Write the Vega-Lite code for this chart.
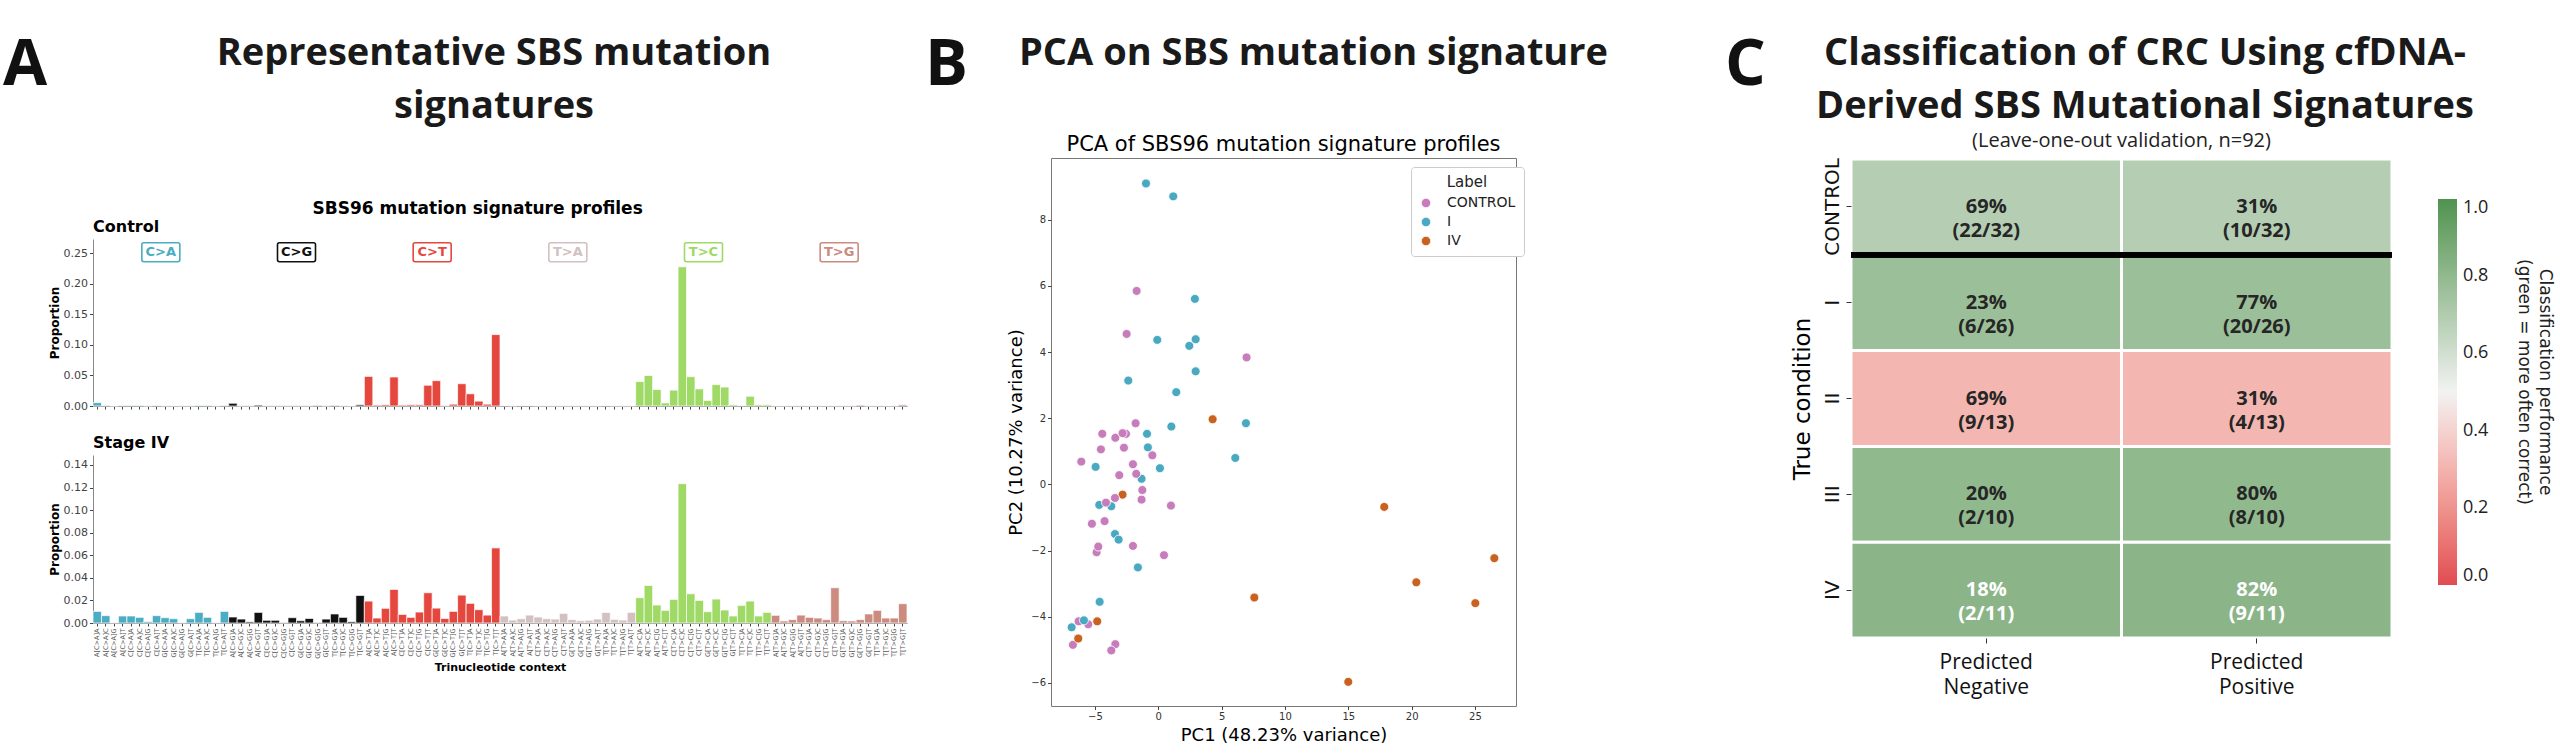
{
"$schema": "https://vega.github.io/schema/vega-lite/v6.json",
"background": "white",
"padding": {"left": 0, "top": 0, "right": 12, "bottom": 0},
"spacing": 0,
"config": {
  "font": "DejaVu Sans",
  "view": {"stroke": null},
  "concat": {"spacing": 0},
  "axis": {"grid": false, "labelFont": "DejaVu Sans", "titleFont": "DejaVu Sans", "labelColor": "#444", "titleColor": "#000", "domainColor": "#888", "tickColor": "#444"},
  "title": {"baseline": "top", "color": "#1a1a1a"},
  "legend": {"labelFont": "DejaVu Sans", "titleFont": "DejaVu Sans"}
},
"datasets": {
  "sbs": [
    {"ctx":"A[C>A]A","mut":"C>A","control":0.0055,"stage":0.0103},
    {"ctx":"A[C>A]C","mut":"C>A","control":0.001,"stage":0.0065},
    {"ctx":"A[C>A]G","mut":"C>A","control":0.0002,"stage":0.0003},
    {"ctx":"A[C>A]T","mut":"C>A","control":0.0009,"stage":0.0062},
    {"ctx":"C[C>A]A","mut":"C>A","control":0.0009,"stage":0.0062},
    {"ctx":"C[C>A]C","mut":"C>A","control":0.0009,"stage":0.005},
    {"ctx":"C[C>A]G","mut":"C>A","control":0.0002,"stage":0.0012},
    {"ctx":"C[C>A]T","mut":"C>A","control":0.0008,"stage":0.0065},
    {"ctx":"G[C>A]A","mut":"C>A","control":0.0002,"stage":0.0047},
    {"ctx":"G[C>A]C","mut":"C>A","control":0.0002,"stage":0.0038},
    {"ctx":"G[C>A]G","mut":"C>A","control":0.0002,"stage":0.0003},
    {"ctx":"G[C>A]T","mut":"C>A","control":0.0002,"stage":0.0038},
    {"ctx":"T[C>A]A","mut":"C>A","control":0.0009,"stage":0.0094},
    {"ctx":"T[C>A]C","mut":"C>A","control":0.0009,"stage":0.005},
    {"ctx":"T[C>A]G","mut":"C>A","control":0.0002,"stage":0.0003},
    {"ctx":"T[C>A]T","mut":"C>A","control":0.0009,"stage":0.0103},
    {"ctx":"A[C>G]A","mut":"C>G","control":0.0045,"stage":0.0053},
    {"ctx":"A[C>G]C","mut":"C>G","control":0.0002,"stage":0.0035},
    {"ctx":"A[C>G]G","mut":"C>G","control":0.0002,"stage":0.001},
    {"ctx":"A[C>G]T","mut":"C>G","control":0.0015,"stage":0.0094},
    {"ctx":"C[C>G]A","mut":"C>G","control":0.0002,"stage":0.0024},
    {"ctx":"C[C>G]C","mut":"C>G","control":0.0002,"stage":0.0024},
    {"ctx":"C[C>G]G","mut":"C>G","control":0.0002,"stage":0.0003},
    {"ctx":"C[C>G]T","mut":"C>G","control":0.0002,"stage":0.0047},
    {"ctx":"G[C>G]A","mut":"C>G","control":0.0002,"stage":0.002},
    {"ctx":"G[C>G]C","mut":"C>G","control":0.0002,"stage":0.004},
    {"ctx":"G[C>G]G","mut":"C>G","control":0.0008,"stage":0.0003},
    {"ctx":"G[C>G]T","mut":"C>G","control":0.0002,"stage":0.0035},
    {"ctx":"T[C>G]A","mut":"C>G","control":0.0008,"stage":0.008},
    {"ctx":"T[C>G]C","mut":"C>G","control":0.0002,"stage":0.005},
    {"ctx":"T[C>G]G","mut":"C>G","control":0.0002,"stage":0.0012},
    {"ctx":"T[C>G]T","mut":"C>G","control":0.002,"stage":0.0244},
    {"ctx":"A[C>T]A","mut":"C>T","control":0.0485,"stage":0.0194},
    {"ctx":"A[C>T]C","mut":"C>T","control":0.0015,"stage":0.0044},
    {"ctx":"A[C>T]G","mut":"C>T","control":0.002,"stage":0.013},
    {"ctx":"A[C>T]T","mut":"C>T","control":0.0475,"stage":0.0297},
    {"ctx":"C[C>T]A","mut":"C>T","control":0.0015,"stage":0.0076},
    {"ctx":"C[C>T]C","mut":"C>T","control":0.002,"stage":0.005},
    {"ctx":"C[C>T]G","mut":"C>T","control":0.002,"stage":0.0097},
    {"ctx":"C[C>T]T","mut":"C>T","control":0.034,"stage":0.0268},
    {"ctx":"G[C>T]A","mut":"C>T","control":0.0415,"stage":0.0132},
    {"ctx":"G[C>T]C","mut":"C>T","control":0.0005,"stage":0.004},
    {"ctx":"G[C>T]G","mut":"C>T","control":0.003,"stage":0.0103},
    {"ctx":"G[C>T]T","mut":"C>T","control":0.0365,"stage":0.0247},
    {"ctx":"T[C>T]A","mut":"C>T","control":0.02,"stage":0.0174},
    {"ctx":"T[C>T]C","mut":"C>T","control":0.008,"stage":0.0118},
    {"ctx":"T[C>T]G","mut":"C>T","control":0.003,"stage":0.007},
    {"ctx":"T[C>T]T","mut":"C>T","control":0.117,"stage":0.0665},
    {"ctx":"A[T>A]A","mut":"T>A","control":0.001,"stage":0.0062},
    {"ctx":"A[T>A]C","mut":"T>A","control":0.0003,"stage":0.0026},
    {"ctx":"A[T>A]G","mut":"T>A","control":0.0008,"stage":0.0038},
    {"ctx":"A[T>A]T","mut":"T>A","control":0.0008,"stage":0.007},
    {"ctx":"C[T>A]A","mut":"T>A","control":0.0002,"stage":0.0053},
    {"ctx":"C[T>A]C","mut":"T>A","control":0.0002,"stage":0.0038},
    {"ctx":"C[T>A]G","mut":"T>A","control":0.0002,"stage":0.0035},
    {"ctx":"C[T>A]T","mut":"T>A","control":0.0002,"stage":0.0085},
    {"ctx":"G[T>A]A","mut":"T>A","control":0.0002,"stage":0.003},
    {"ctx":"G[T>A]C","mut":"T>A","control":0.0002,"stage":0.002},
    {"ctx":"G[T>A]G","mut":"T>A","control":0.0002,"stage":0.0024},
    {"ctx":"G[T>A]T","mut":"T>A","control":0.0002,"stage":0.0035},
    {"ctx":"T[T>A]A","mut":"T>A","control":0.001,"stage":0.0094},
    {"ctx":"T[T>A]C","mut":"T>A","control":0.0002,"stage":0.0032},
    {"ctx":"T[T>A]G","mut":"T>A","control":0.0002,"stage":0.0026},
    {"ctx":"T[T>A]T","mut":"T>A","control":0.0002,"stage":0.0094},
    {"ctx":"A[T>C]A","mut":"T>C","control":0.04,"stage":0.0224},
    {"ctx":"A[T>C]C","mut":"T>C","control":0.05,"stage":0.0332},
    {"ctx":"A[T>C]G","mut":"T>C","control":0.027,"stage":0.0159},
    {"ctx":"A[T>C]T","mut":"T>C","control":0.005,"stage":0.0112},
    {"ctx":"C[T>C]A","mut":"T>C","control":0.026,"stage":0.0209},
    {"ctx":"C[T>C]C","mut":"T>C","control":0.228,"stage":0.1234},
    {"ctx":"C[T>C]G","mut":"T>C","control":0.048,"stage":0.0259},
    {"ctx":"C[T>C]T","mut":"T>C","control":0.028,"stage":0.02},
    {"ctx":"G[T>C]A","mut":"T>C","control":0.009,"stage":0.01},
    {"ctx":"G[T>C]C","mut":"T>C","control":0.035,"stage":0.0212},
    {"ctx":"G[T>C]G","mut":"T>C","control":0.031,"stage":0.0115},
    {"ctx":"G[T>C]T","mut":"T>C","control":0.002,"stage":0.0062},
    {"ctx":"T[T>C]A","mut":"T>C","control":0.001,"stage":0.0156},
    {"ctx":"T[T>C]C","mut":"T>C","control":0.016,"stage":0.0194},
    {"ctx":"T[T>C]G","mut":"T>C","control":0.002,"stage":0.0062},
    {"ctx":"T[T>C]T","mut":"T>C","control":0.002,"stage":0.0094},
    {"ctx":"A[T>G]A","mut":"T>G","control":0.0002,"stage":0.0068},
    {"ctx":"A[T>G]C","mut":"T>G","control":0.0002,"stage":0.0018},
    {"ctx":"A[T>G]G","mut":"T>G","control":0.0002,"stage":0.003},
    {"ctx":"A[T>G]T","mut":"T>G","control":0.0002,"stage":0.007},
    {"ctx":"C[T>G]A","mut":"T>G","control":0.0002,"stage":0.005},
    {"ctx":"C[T>G]C","mut":"T>G","control":0.0002,"stage":0.0044},
    {"ctx":"C[T>G]G","mut":"T>G","control":0.0002,"stage":0.003},
    {"ctx":"C[T>G]T","mut":"T>G","control":0.0002,"stage":0.0312},
    {"ctx":"G[T>G]A","mut":"T>G","control":0.0002,"stage":0.002},
    {"ctx":"G[T>G]C","mut":"T>G","control":0.0002,"stage":0.0018},
    {"ctx":"G[T>G]G","mut":"T>G","control":0.0015,"stage":0.003},
    {"ctx":"G[T>G]T","mut":"T>G","control":0.0002,"stage":0.008},
    {"ctx":"T[T>G]A","mut":"T>G","control":0.0002,"stage":0.0112},
    {"ctx":"T[T>G]C","mut":"T>G","control":0.0002,"stage":0.0044},
    {"ctx":"T[T>G]G","mut":"T>G","control":0.0002,"stage":0.0044},
    {"ctx":"T[T>G]T","mut":"T>G","control":0.002,"stage":0.0171}
  ],
  "muts": [
    {"mut":"C>A","ctx":"C[C>A]T"},
    {"mut":"C>G","ctx":"C[C>G]T"},
    {"mut":"C>T","ctx":"C[C>T]T"},
    {"mut":"T>A","ctx":"C[T>A]T"},
    {"mut":"T>C","ctx":"C[T>C]T"},
    {"mut":"T>G","ctx":"C[T>G]T"}
  ],
  "pca": [
    {"pc1":-0.97,"pc2":9.10,"label":"I"},
    {"pc1":1.18,"pc2":8.71,"label":"I"},
    {"pc1":-1.71,"pc2":5.85,"label":"CONTROL"},
    {"pc1":2.89,"pc2":5.61,"label":"I"},
    {"pc1":-2.5,"pc2":4.55,"label":"CONTROL"},
    {"pc1":-0.08,"pc2":4.37,"label":"I"},
    {"pc1":2.95,"pc2":4.39,"label":"I"},
    {"pc1":2.45,"pc2":4.19,"label":"I"},
    {"pc1":6.97,"pc2":3.84,"label":"CONTROL"},
    {"pc1":2.95,"pc2":3.42,"label":"I"},
    {"pc1":-2.37,"pc2":3.14,"label":"I"},
    {"pc1":1.42,"pc2":2.79,"label":"I"},
    {"pc1":4.29,"pc2":1.97,"label":"IV"},
    {"pc1":-1.79,"pc2":1.85,"label":"CONTROL"},
    {"pc1":1.03,"pc2":1.75,"label":"I"},
    {"pc1":6.92,"pc2":1.85,"label":"I"},
    {"pc1":-4.42,"pc2":1.53,"label":"CONTROL"},
    {"pc1":-3.39,"pc2":1.41,"label":"CONTROL"},
    {"pc1":-2.55,"pc2":1.53,"label":"CONTROL"},
    {"pc1":-2.82,"pc2":1.55,"label":"CONTROL"},
    {"pc1":-0.89,"pc2":1.53,"label":"I"},
    {"pc1":-4.53,"pc2":1.06,"label":"CONTROL"},
    {"pc1":-2.71,"pc2":1.11,"label":"CONTROL"},
    {"pc1":-0.82,"pc2":1.12,"label":"I"},
    {"pc1":-0.47,"pc2":0.88,"label":"CONTROL"},
    {"pc1":-6.08,"pc2":0.69,"label":"CONTROL"},
    {"pc1":-4.95,"pc2":0.53,"label":"I"},
    {"pc1":-2.0,"pc2":0.61,"label":"CONTROL"},
    {"pc1":0.13,"pc2":0.49,"label":"I"},
    {"pc1":6.08,"pc2":0.80,"label":"I"},
    {"pc1":-3.08,"pc2":0.28,"label":"CONTROL"},
    {"pc1":-1.32,"pc2":0.17,"label":"I"},
    {"pc1":-1.74,"pc2":0.32,"label":"CONTROL"},
    {"pc1":-1.26,"pc2":-0.17,"label":"CONTROL"},
    {"pc1":-2.82,"pc2":-0.31,"label":"IV"},
    {"pc1":-1.32,"pc2":-0.46,"label":"CONTROL"},
    {"pc1":-3.42,"pc2":-0.41,"label":"CONTROL"},
    {"pc1":-4.66,"pc2":-0.62,"label":"I"},
    {"pc1":-3.71,"pc2":-0.66,"label":"I"},
    {"pc1":-4.13,"pc2":-0.55,"label":"CONTROL"},
    {"pc1":1.0,"pc2":-0.64,"label":"CONTROL"},
    {"pc1":17.84,"pc2":-0.68,"label":"IV"},
    {"pc1":-5.24,"pc2":-1.19,"label":"CONTROL"},
    {"pc1":-4.24,"pc2":-1.11,"label":"CONTROL"},
    {"pc1":-3.42,"pc2":-1.50,"label":"I"},
    {"pc1":-3.13,"pc2":-1.67,"label":"I"},
    {"pc1":-4.87,"pc2":-2.05,"label":"CONTROL"},
    {"pc1":-4.74,"pc2":-1.88,"label":"CONTROL"},
    {"pc1":-2.0,"pc2":-1.86,"label":"CONTROL"},
    {"pc1":0.45,"pc2":-2.14,"label":"CONTROL"},
    {"pc1":-1.61,"pc2":-2.51,"label":"I"},
    {"pc1":26.53,"pc2":-2.23,"label":"IV"},
    {"pc1":20.37,"pc2":-2.96,"label":"IV"},
    {"pc1":7.58,"pc2":-3.42,"label":"IV"},
    {"pc1":-4.63,"pc2":-3.55,"label":"I"},
    {"pc1":25.03,"pc2":-3.59,"label":"IV"},
    {"pc1":-6.29,"pc2":-4.14,"label":"CONTROL"},
    {"pc1":-5.53,"pc2":-4.23,"label":"CONTROL"},
    {"pc1":-5.87,"pc2":-4.11,"label":"I"},
    {"pc1":-4.82,"pc2":-4.14,"label":"IV"},
    {"pc1":-6.84,"pc2":-4.32,"label":"I"},
    {"pc1":-6.74,"pc2":-4.85,"label":"CONTROL"},
    {"pc1":-6.32,"pc2":-4.66,"label":"IV"},
    {"pc1":-3.39,"pc2":-4.83,"label":"CONTROL"},
    {"pc1":-3.71,"pc2":-5.02,"label":"CONTROL"},
    {"pc1":15.0,"pc2":-5.97,"label":"IV"}
  ],
  "cm": [
    {"truth":"CONTROL","pred":"Predicted Negative","label":"69%\n(22/32)","perf":0.6875},
    {"truth":"CONTROL","pred":"Predicted Positive","label":"31%\n(10/32)","perf":0.6875},
    {"truth":"I","pred":"Predicted Negative","label":"23%\n(6/26)","perf":0.769},
    {"truth":"I","pred":"Predicted Positive","label":"77%\n(20/26)","perf":0.769},
    {"truth":"II","pred":"Predicted Negative","label":"69%\n(9/13)","perf":0.308},
    {"truth":"II","pred":"Predicted Positive","label":"31%\n(4/13)","perf":0.308},
    {"truth":"III","pred":"Predicted Negative","label":"20%\n(2/10)","perf":0.8},
    {"truth":"III","pred":"Predicted Positive","label":"80%\n(8/10)","perf":0.8},
    {"truth":"IV","pred":"Predicted Negative","label":"18%\n(2/11)","perf":0.818},
    {"truth":"IV","pred":"Predicted Positive","label":"82%\n(9/11)","perf":0.818}
  ]
},
"hconcat": [
  {
    "width": 47, "height": 1,
    "title": {"text": "A", "orient": "bottom", "font": "Open Sans", "fontSize": 64, "fontWeight": "bold", "anchor": "start", "frame": "group", "dx": 3, "offset": 22, "color": "#111"},
    "data": {"values": [{"t": ""}]},
    "mark": {"type": "text"},
    "encoding": {"text": {"field": "t"}}
  },
  {
    "spacing": 74,
    "vconcat": [
      {
        "width": 802, "height": 1,
        "title": {"text": ["Representative SBS mutation", "signatures"], "orient": "bottom", "font": "Open Sans", "fontSize": 38, "fontWeight": "bold", "lineHeight": 53, "anchor": "middle", "frame": "group", "offset": 23},
        "data": {"values": [{"t": ""}]},
        "mark": {"type": "text"},
        "encoding": {"text": {"field": "t"}}
      },
      {
        "title": {"text": "SBS96 mutation signature profiles", "font": "DejaVu Sans", "fontSize": 17, "fontWeight": "bold", "anchor": "middle", "offset": 1, "color": "#000"},
        "spacing": 24,
        "vconcat": [
          {
            "width": 814, "height": 167,
            "title": {"text": "Control", "font": "DejaVu Sans", "fontSize": 16, "fontWeight": "bold", "anchor": "start", "frame": "group", "offset": 4, "color": "#000"},
            "data": {"name": "sbs"},
            "layer": [
              {
                "mark": {"type": "bar", "stroke": "white", "strokeWidth": 0.7},
                "encoding": {
                  "x": {"field": "ctx", "type": "nominal", "sort": null, "scale": {"paddingInner": 0, "paddingOuter": 0}, "axis": {"labels": false, "title": null, "ticks": true, "tickSize": 3}},
                  "y": {"field": "control", "type": "quantitative", "scale": {"domain": [0, 0.2736], "nice": false}, "axis": {"values": [0, 0.05, 0.1, 0.15, 0.2, 0.25], "format": ".2f", "labelOverlap": false, "title": "Proportion", "titleFontSize": 12, "titleFontWeight": "bold", "labelFontSize": 11, "tickSize": 3.5, "labelPadding": 2, "titlePadding": 2}},
                  "color": {"field": "mut", "type": "nominal", "scale": {"domain": ["C>A","C>G","C>T","T>A","T>C","T>G"], "range": ["#4aadc3","#111111","#e5473f","#d3c0c0","#9fd966","#cc8b7f"]}, "legend": null}
                }
              },
              {
                "data": {"name": "muts"},
                "mark": {"type": "point", "shape": "M -0.9 -0.5 L 0.9 -0.5 Q 1 -0.5 1 -0.4 L 1 0.4 Q 1 0.5 0.9 0.5 L -0.9 0.5 Q -1 0.5 -1 0.4 L -1 -0.4 Q -1 -0.5 -0.9 -0.5 Z", "size": 1444, "filled": true, "fill": "white", "strokeWidth": 1.6, "opacity": 1},
                "encoding": {
                  "x": {"field": "ctx", "type": "nominal", "sort": null, "bandPosition": 1, "axis": {"labels": false, "title": null, "ticks": true, "tickSize": 3}},
                  "y": {"datum": 0.252, "type": "quantitative", "axis": {"values": [0, 0.05, 0.1, 0.15, 0.2, 0.25], "format": ".2f", "labelOverlap": false, "title": "Proportion", "titleFontSize": 12, "titleFontWeight": "bold", "labelFontSize": 11, "tickSize": 3.5, "labelPadding": 2, "titlePadding": 2}},
                  "stroke": {"field": "mut", "type": "nominal", "scale": {"domain": ["C>A","C>G","C>T","T>A","T>C","T>G"], "range": ["#4aadc3","#111111","#e5473f","#d3c0c0","#9fd966","#cc8b7f"]}, "legend": null}
                }
              },
              {
                "data": {"name": "muts"},
                "mark": {"type": "text", "font": "DejaVu Sans", "fontSize": 13, "fontWeight": "bold", "baseline": "middle", "align": "center"},
                "encoding": {
                  "x": {"field": "ctx", "type": "nominal", "sort": null, "bandPosition": 1, "axis": {"labels": false, "title": null, "ticks": true, "tickSize": 3}},
                  "y": {"datum": 0.252, "type": "quantitative", "axis": {"values": [0, 0.05, 0.1, 0.15, 0.2, 0.25], "format": ".2f", "labelOverlap": false, "title": "Proportion", "titleFontSize": 12, "titleFontWeight": "bold", "labelFontSize": 11, "tickSize": 3.5, "labelPadding": 2, "titlePadding": 2}},
                  "text": {"field": "mut"},
                  "color": {"field": "mut", "type": "nominal", "scale": {"domain": ["C>A","C>G","C>T","T>A","T>C","T>G"], "range": ["#4aadc3","#111111","#e5473f","#d3c0c0","#9fd966","#cc8b7f"]}, "legend": null}
                }
              }
            ]
          },
          {
            "width": 814, "height": 168,
            "title": {"text": "Stage IV", "font": "DejaVu Sans", "fontSize": 16, "fontWeight": "bold", "anchor": "start", "frame": "group", "offset": 4, "color": "#000"},
            "data": {"name": "sbs"},
            "mark": {"type": "bar", "stroke": "white", "strokeWidth": 0.7},
            "encoding": {
              "x": {"field": "ctx", "type": "nominal", "sort": null, "scale": {"paddingInner": 0, "paddingOuter": 0}, "axis": {"title": "Trinucleotide context", "titleFontSize": 11, "titleFontWeight": "bold", "titlePadding": 3, "labelAngle": -90, "labelFontSize": 6.5, "labelColor": "#555", "labelOverlap": false, "labelPadding": 2, "tickSize": 3}},
              "y": {"field": "stage", "type": "quantitative", "scale": {"domain": [0, 0.1488], "nice": false}, "axis": {"values": [0, 0.02, 0.04, 0.06, 0.08, 0.1, 0.12, 0.14], "format": ".2f", "labelOverlap": false, "title": "Proportion", "titleFontSize": 12, "titleFontWeight": "bold", "labelFontSize": 11, "tickSize": 3.5, "labelPadding": 2, "titlePadding": 2}},
              "color": {"field": "mut", "type": "nominal", "scale": {"domain": ["C>A","C>G","C>T","T>A","T>C","T>G"], "range": ["#4aadc3","#111111","#e5473f","#d3c0c0","#9fd966","#cc8b7f"]}, "legend": null}
            }
          }
        ]
      }
    ]
  },
  {
    "width": 99, "height": 1,
    "title": {"text": "B", "orient": "bottom", "font": "Open Sans", "fontSize": 64, "fontWeight": "bold", "anchor": "start", "frame": "group", "dx": 17, "offset": 22, "color": "#111"},
    "data": {"values": [{"t": ""}]},
    "mark": {"type": "text"},
    "encoding": {"text": {"field": "t"}}
  },
  {
    "spacing": 60,
    "vconcat": [
      {
        "width": 100, "height": 1,
        "title": {"text": "PCA on SBS mutation signature", "orient": "bottom", "font": "Open Sans", "fontSize": 38, "fontWeight": "bold", "anchor": "start", "frame": "group", "dx": -32, "offset": 23},
        "data": {"values": [{"t": ""}]},
        "mark": {"type": "text"},
        "encoding": {"text": {"field": "t"}}
      },
      {
        "width": 465, "height": 548,
        "title": {"text": "PCA of SBS96 mutation signature profiles", "font": "DejaVu Sans", "fontSize": 21, "fontWeight": "normal", "anchor": "middle", "offset": 3, "color": "#000"},
        "view": {"stroke": "#777", "strokeWidth": 1},
        "data": {"name": "pca"},
        "mark": {"type": "circle", "size": 80, "stroke": "white", "strokeWidth": 0.8, "opacity": 1},
        "encoding": {
          "x": {"field": "pc1", "type": "quantitative", "scale": {"domain": [-8.47, 28.24], "nice": false, "zero": false}, "axis": {"values": [-5, 0, 5, 10, 15, 20, 25], "title": "PC1 (48.23% variance)", "domain": false, "labelFontSize": 10, "titleFontSize": 18, "titleFontWeight": "normal", "tickSize": 3.5, "labelColor": "#333", "titlePadding": 5}},
          "y": {"field": "pc2", "type": "quantitative", "scale": {"domain": [-6.7, 9.87], "nice": false, "zero": false}, "axis": {"values": [-6, -4, -2, 0, 2, 4, 6, 8], "title": "PC2 (10.27% variance)", "domain": false, "labelFontSize": 10, "titleFontSize": 18, "titleFontWeight": "normal", "tickSize": 3.5, "labelColor": "#333", "labelPadding": 2, "titlePadding": 5}},
          "color": {"field": "label", "type": "nominal", "scale": {"domain": ["CONTROL", "I", "IV"], "range": ["#c77cbb", "#49a9c1", "#c9621e"]},
            "legend": {"title": "Label", "orient": "none", "legendX": 360, "legendY": 161, "fillColor": "white", "strokeColor": "#ccc", "padding": 8, "cornerRadius": 3, "titleFontSize": 15, "titleFontWeight": "normal", "titleAnchor": "middle", "titleColor": "#222", "labelFontSize": 14, "labelColor": "#222", "symbolSize": 90, "symbolStrokeColor": "white", "symbolStrokeWidth": 0.8, "rowPadding": 5, "labelOffset": 14, "titlePadding": 6}}
        }
      }
    ]
  },
  {
    "width": 181, "height": 1,
    "title": {"text": "C", "orient": "bottom", "font": "Open Sans", "fontSize": 64, "fontWeight": "bold", "anchor": "start", "frame": "group", "dx": 116, "offset": 22, "color": "#111"},
    "data": {"values": [{"t": ""}]},
    "mark": {"type": "text"},
    "encoding": {"text": {"field": "t"}}
  },
  {
    "spacing": 4,
    "vconcat": [
      {
        "width": 588, "height": 1,
        "title": {"text": ["Classification of CRC Using cfDNA-", "Derived SBS Mutational Signatures"], "orient": "bottom", "font": "Open Sans", "fontSize": 38, "fontWeight": "bold", "lineHeight": 53, "anchor": "middle", "frame": "group", "offset": 23},
        "data": {"values": [{"t": ""}]},
        "mark": {"type": "text"},
        "encoding": {"text": {"field": "t"}}
      },
      {
        "width": 541, "height": 479,
        "title": {"text": "(Leave-one-out validation, n=92)", "font": "Open Sans", "fontSize": 20, "fontWeight": "normal", "anchor": "middle", "frame": "group", "offset": 7, "color": "#222"},
        "data": {"name": "cm"},
        "layer": [
          {
            "mark": {"type": "rect", "stroke": "white", "strokeWidth": 3},
            "encoding": {
              "x": {"field": "pred", "type": "nominal", "sort": ["Predicted Negative", "Predicted Positive"], "scale": {"paddingInner": 0, "paddingOuter": 0}, "axis": {"title": null, "labelExpr": "split(datum.label, ' ')", "labelFont": "Open Sans", "labelFontSize": 21, "labelColor": "#111", "labelLineHeight": 25, "tickSize": 5, "tickColor": "#333", "labelPadding": 8, "domain": false, "labelAngle": 0}},
              "y": {"field": "truth", "type": "nominal", "sort": ["CONTROL", "I", "II", "III", "IV"], "scale": {"paddingInner": 0, "paddingOuter": 0}, "axis": {"title": "True condition", "titleFontSize": 23, "titleFontWeight": "normal", "titlePadding": 8, "labelAngle": -90, "labelFontSize": 20, "labelColor": "#111", "tickSize": 5, "tickColor": "#333", "labelPadding": 4, "domain": false}},
              "color": {"field": "perf", "type": "quantitative", "scale": {"domain": [0, 0.5, 1], "range": ["#e04b51", "#f2f2f2", "#4f934f"]},
                "legend": {"orient": "none", "legendX": 587, "legendY": 193, "direction": "vertical", "gradientLength": 386, "gradientThickness": 19, "gradientStrokeWidth": 0, "title": ["Classification performance", "(green = more often correct)"], "titleOrient": "right", "titleAngle": 270, "titleLimit": 600, "titleFontSize": 17, "titleFontWeight": "normal", "titleColor": "#222", "titleLineHeight": 21, "titlePadding": 48, "labelFont": "Open Sans", "labelFontSize": 18, "labelColor": "#222", "labelOffset": 6, "values": [0, 0.2, 0.4, 0.6, 0.8, 1], "format": ".1f", "padding": 0}}
            }
          },
          {
            "mark": {"type": "rule", "strokeWidth": 5, "color": "black"},
            "encoding": {
              "y": {"datum": "I", "type": "nominal", "bandPosition": 0}
            }
          },
          {
            "mark": {"type": "text", "font": "Open Sans", "fontSize": 20, "fontWeight": "bold", "lineBreak": "\n", "lineHeight": 24, "baseline": "middle", "align": "center"},
            "encoding": {
              "x": {"field": "pred", "type": "nominal", "sort": ["Predicted Negative", "Predicted Positive"]},
              "y": {"field": "truth", "type": "nominal", "sort": ["CONTROL", "I", "II", "III", "IV"]},
              "text": {"field": "label"},
              "color": {"condition": {"test": "datum.truth === 'IV'", "value": "white"}, "value": "#262626"}
            }
          }
        ]
      }
    ]
  }
]
}
